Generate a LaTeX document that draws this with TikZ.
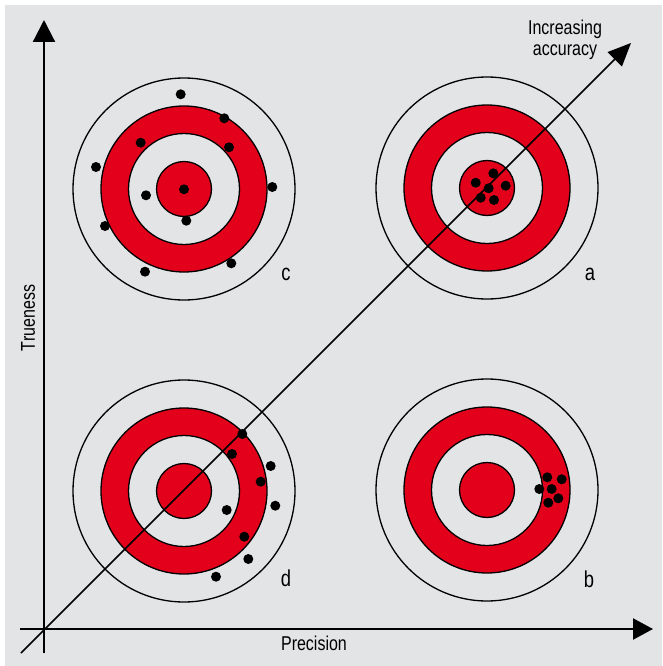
\documentclass[tikz,border=0pt]{standalone}
\usepackage{fontspec}
\setmainfont{Liberation Sans}[FakeStretch=0.8]
\usetikzlibrary{arrows.meta}
\definecolor{targetred}{RGB}{226,0,26}
\definecolor{panelgrey}{RGB}{227,228,230}

\begin{document}
\begin{tikzpicture}[x=1pt,y=-1pt,font=\fontsize{20}{21}\selectfont,
    ring/.style={draw=black, line width=1.3pt},
    shot/.style={fill=black},
    axis/.style={line width=2.2pt},
    letter/.style={font=\fontsize{23}{23}\selectfont}]
    \useasboundingbox (0,0) rectangle (662,666);
    \fill[white]     (0,0) rectangle (662,666);
    \fill[panelgrey] (5,5) rectangle (662,666);
    % the four targets
    \foreach \cx/\cy in {184/189, 487/188, 184/491, 487/490} {
        \fill[targetred] (\cx,\cy) circle[radius=83];
        \fill[panelgrey] (\cx,\cy) circle[radius=55.5];
        \fill[targetred] (\cx,\cy) circle[radius=27.5];
        \foreach \r in {27.5, 55.5, 83, 111}
            \draw[ring] (\cx,\cy) circle[radius=\r];
    }
    % axes
    \coordinate (origin) at (44,629);
    \coordinate (ytail) at (44,653);
    \coordinate (ytip)  at (44,20);
    \coordinate (xtail) at (20,629);
    \coordinate (xtip)  at (653,629);
    \coordinate (dtail) at (21,653);
    \coordinate (dtip)  at (631,43);
    \draw[axis, -{Triangle[length=22pt,width=22pt]}] (ytail) -- (ytip);
    \draw[axis, -{Triangle[length=20pt,width=21pt]}] (xtail) -- (xtip);
    \draw[line width=1.5pt, -{Triangle[length=23pt,width=20pt]}] (dtail) -- (dtip);
    % shots
    \foreach \x/\y in {180.7/94.3, 224.3/118.3, 140.7/142.7, 229/147.3, 96/167,
                       272.3/187, 184/189.3, 146/195.3, 186.3/220.7, 105/226,
                       231.3/263.3, 145/271.7}
        \fill[shot] (\x,\y) circle[radius=5];
    \foreach \x/\y in {493.3/173.3, 475.7/182.7, 505.7/185.7, 488.7/188.3,
                       480.7/197.7, 494/200}
        \fill[shot] (\x,\y) circle[radius=5];
    \foreach \x/\y in {242.3/434, 232/454, 270.7/466, 260.7/481.7, 275.3/505.7,
                       226.7/510, 244.3/536.7, 248.3/559, 216/576.7}
        \fill[shot] (\x,\y) circle[radius=5];
    \foreach \x/\y in {547.3/477.3, 561.7/479.3, 539.3/489, 551.7/489,
                       558.3/498.3, 548.3/502.7}
        \fill[shot] (\x,\y) circle[radius=5];
    % labels
    \node[letter] (labA) at (590,274) {a};
    \node[letter] (labB) at (589,579.5) {b};
    \node[letter] (labC) at (286,274) {c};
    \node[letter] (labD) at (286,578) {d};
    \node[rotate=90] (trueness) at (28,318) {Trueness};
    \node (precision) at (314,643) {Precision};
    \node[align=center] (accuracy) at (565,40) {Increasing\\accuracy};
\end{tikzpicture}
\end{document}
